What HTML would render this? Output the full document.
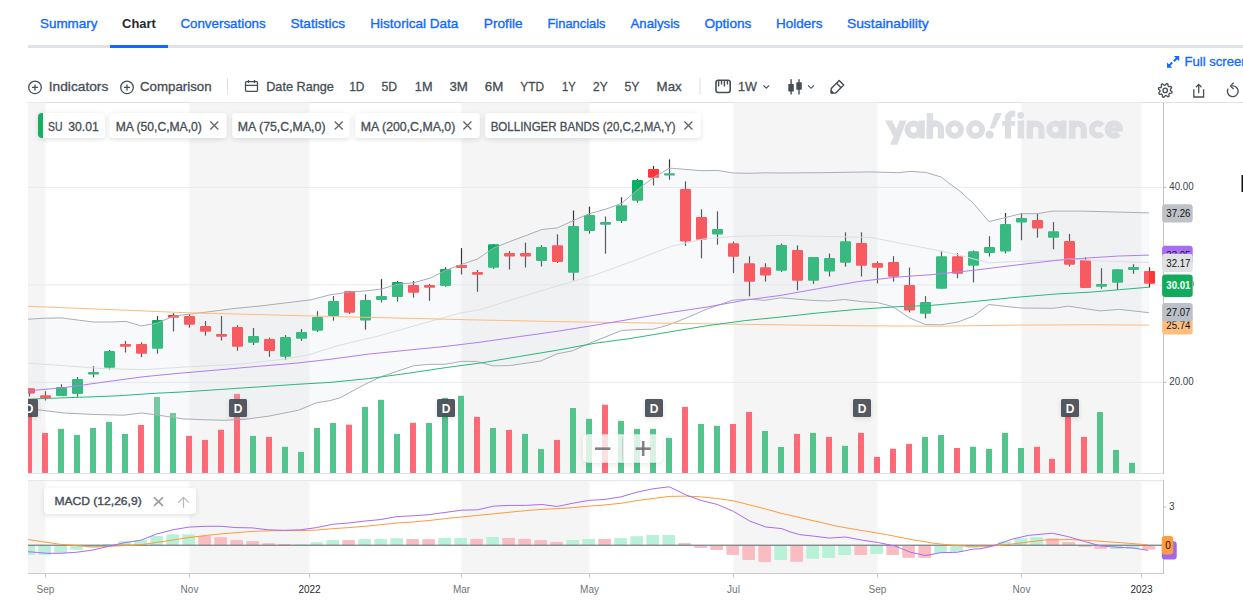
<!DOCTYPE html><html><head><meta charset="utf-8"><title>Chart</title><style>html,body{margin:0;padding:0;background:#fff;width:1243px;height:607px;overflow:hidden;}body{position:relative;font-family:"Liberation Sans",sans-serif;}</style></head><body><svg width="1243" height="607" viewBox="0 0 1243 607" style="position:absolute;left:0;top:0" font-family='"Liberation Sans", sans-serif'><defs><clipPath id="cm"><rect x="28" y="103" width="1135.5" height="370"/></clipPath><clipPath id="cd"><rect x="28" y="481" width="1135.5" height="92"/></clipPath><filter id="sh" x="-20%" y="-50%" width="140%" height="200%"><feDropShadow dx="0" dy="1.5" stdDeviation="2.4" flood-color="#000" flood-opacity="0.12"/></filter></defs><text x="40" y="28.2" font-size="13.5" font-weight="400" fill="#0f69ff" stroke="#0f69ff" stroke-width="0.35" textLength="57.4" lengthAdjust="spacingAndGlyphs">Summary</text><text x="122.1" y="28.2" font-size="13.5" font-weight="700" fill="#232a31" textLength="33.6" lengthAdjust="spacingAndGlyphs">Chart</text><text x="180.4" y="28.2" font-size="13.5" font-weight="400" fill="#0f69ff" stroke="#0f69ff" stroke-width="0.35" textLength="85.3" lengthAdjust="spacingAndGlyphs">Conversations</text><text x="290.4" y="28.2" font-size="13.5" font-weight="400" fill="#0f69ff" stroke="#0f69ff" stroke-width="0.35" textLength="54.7" lengthAdjust="spacingAndGlyphs">Statistics</text><text x="370.3" y="28.2" font-size="13.5" font-weight="400" fill="#0f69ff" stroke="#0f69ff" stroke-width="0.35" textLength="88.0" lengthAdjust="spacingAndGlyphs">Historical Data</text><text x="483.8" y="28.2" font-size="13.5" font-weight="400" fill="#0f69ff" stroke="#0f69ff" stroke-width="0.35" textLength="38.8" lengthAdjust="spacingAndGlyphs">Profile</text><text x="547.5" y="28.2" font-size="13.5" font-weight="400" fill="#0f69ff" stroke="#0f69ff" stroke-width="0.35" textLength="58.0" lengthAdjust="spacingAndGlyphs">Financials</text><text x="630.5" y="28.2" font-size="13.5" font-weight="400" fill="#0f69ff" stroke="#0f69ff" stroke-width="0.35" textLength="49.2" lengthAdjust="spacingAndGlyphs">Analysis</text><text x="704.4" y="28.2" font-size="13.5" font-weight="400" fill="#0f69ff" stroke="#0f69ff" stroke-width="0.35" textLength="47.0" lengthAdjust="spacingAndGlyphs">Options</text><text x="776" y="28.2" font-size="13.5" font-weight="400" fill="#0f69ff" stroke="#0f69ff" stroke-width="0.35" textLength="46.5" lengthAdjust="spacingAndGlyphs">Holders</text><text x="846.9" y="28.2" font-size="13.5" font-weight="400" fill="#0f69ff" stroke="#0f69ff" stroke-width="0.35" textLength="81.8" lengthAdjust="spacingAndGlyphs">Sustainability</text><rect x="28" y="45" width="1215" height="3" fill="#e0e4e9"/><rect x="110" y="45" width="58" height="3" fill="#0f69ff"/><circle cx="35" cy="87.4" r="6.3" fill="none" stroke="#464e56" stroke-width="1.3"/><path d="M32 87.4h6M35 84.4v6" stroke="#464e56" stroke-width="1.3"/><circle cx="127" cy="87.4" r="6.3" fill="none" stroke="#464e56" stroke-width="1.3"/><path d="M124 87.4h6M127 84.4v6" stroke="#464e56" stroke-width="1.3"/><text x="48.8" y="91.2" font-size="13" fill="#464e56" stroke="#464e56" stroke-width="0.3" textLength="59.5" lengthAdjust="spacingAndGlyphs">Indicators</text><text x="140" y="91.2" font-size="13" fill="#464e56" stroke="#464e56" stroke-width="0.3" textLength="71.6" lengthAdjust="spacingAndGlyphs">Comparison</text><text x="266.2" y="91.2" font-size="13" fill="#464e56" stroke="#464e56" stroke-width="0.3" textLength="67.7" lengthAdjust="spacingAndGlyphs">Date Range</text><text x="349.2" y="91.2" font-size="13" fill="#464e56" stroke="#464e56" stroke-width="0.3" textLength="15.3" lengthAdjust="spacingAndGlyphs">1D</text><text x="381.4" y="91.2" font-size="13" fill="#464e56" stroke="#464e56" stroke-width="0.3" textLength="15.6" lengthAdjust="spacingAndGlyphs">5D</text><text x="414.8" y="91.2" font-size="13" fill="#464e56" stroke="#464e56" stroke-width="0.3" textLength="17.7" lengthAdjust="spacingAndGlyphs">1M</text><text x="449.4" y="91.2" font-size="13" fill="#464e56" stroke="#464e56" stroke-width="0.3" textLength="18.5" lengthAdjust="spacingAndGlyphs">3M</text><text x="484.8" y="91.2" font-size="13" fill="#464e56" stroke="#464e56" stroke-width="0.3" textLength="18.5" lengthAdjust="spacingAndGlyphs">6M</text><text x="520.2" y="91.2" font-size="13" fill="#464e56" stroke="#464e56" stroke-width="0.3" textLength="23.8" lengthAdjust="spacingAndGlyphs">YTD</text><text x="562" y="91.2" font-size="13" fill="#464e56" stroke="#464e56" stroke-width="0.3" textLength="13.7" lengthAdjust="spacingAndGlyphs">1Y</text><text x="593" y="91.2" font-size="13" fill="#464e56" stroke="#464e56" stroke-width="0.3" textLength="14.6" lengthAdjust="spacingAndGlyphs">2Y</text><text x="624.5" y="91.2" font-size="13" fill="#464e56" stroke="#464e56" stroke-width="0.3" textLength="14.9" lengthAdjust="spacingAndGlyphs">5Y</text><text x="656.6" y="91.2" font-size="13" fill="#464e56" stroke="#464e56" stroke-width="0.3" textLength="25.1" lengthAdjust="spacingAndGlyphs">Max</text><text x="738" y="91.2" font-size="13" fill="#464e56" stroke="#464e56" stroke-width="0.3" textLength="18.9" lengthAdjust="spacingAndGlyphs">1W</text><rect x="227" y="78" width="1" height="16.5" fill="#dcdfe3"/><rect x="699.5" y="78" width="1" height="16.5" fill="#dcdfe3"/><g fill="none" stroke="#464e56" stroke-width="1.3"><rect x="245.5" y="81.7" width="12" height="9.6" rx="1"/><path d="M245.5 85.4h12M248.5 80v3M254.5 80v3"/></g><g fill="none" stroke="#464e56" stroke-width="1.6"><rect x="716" y="80.3" width="14.2" height="12.2" rx="2.2"/><path d="M718.6 81v5.4M721.5 81v3.4M724.4 81v5.4M727.4 81v3.4" stroke-width="1.4"/></g><path d="M763.5 85.3l2.8 2.8 2.8-2.8" fill="none" stroke="#464e56" stroke-width="1.1"/><path d="M808 85.3l3 3 3-3" fill="none" stroke="#464e56" stroke-width="1.1"/><g fill="#464e56"><rect x="790.4" y="79.2" width="1.4" height="15.3"/><rect x="788.3" y="83.9" width="5.5" height="7.7" rx="0.6"/><rect x="798.3" y="79.2" width="1.4" height="15.3"/><rect x="796.3" y="82.2" width="5.5" height="7.5" rx="0.6"/></g><g fill="none" stroke="#464e56" stroke-width="1.4" stroke-linejoin="round"><path d="M839.2 80.6L843.7 85.1L835.7 93.1L831.6 93.1L831.2 92.7L831.2 88.6Z"/><path d="M836.6 83.2L841.1 87.7"/><path d="M831.2 90.8L833.2 92.8L831.2 92.8Z" fill="#464e56"/></g><g stroke="#0f69ff" stroke-width="2" fill="none"><path d="M1177.6 57.5L1173.9 61.2M1168.6 66.1L1172.2 62.5"/></g><path d="M1173.9 55.9H1179.2V61.2Z" fill="#0f69ff"/><path d="M1167 62.4V67.7H1172.3Z" fill="#0f69ff"/><text x="1184.5" y="65.7" font-size="12.8" fill="#0f69ff" stroke="#0f69ff" stroke-width="0.3" textLength="64" lengthAdjust="spacingAndGlyphs">Full screen</text><path d="M1165.20 85.20 L1166.57 83.53 L1167.88 83.93 L1168.09 86.08 L1168.88 86.72 L1171.02 86.51 L1171.67 87.72 L1170.30 89.39 L1170.40 90.40 L1172.07 91.77 L1171.67 93.08 L1169.52 93.29 L1168.88 94.08 L1169.09 96.22 L1167.88 96.87 L1166.21 95.50 L1165.20 95.60 L1163.83 97.27 L1162.52 96.87 L1162.31 94.72 L1161.52 94.08 L1159.38 94.29 L1158.73 93.08 L1160.10 91.41 L1160.00 90.40 L1158.33 89.03 L1158.73 87.72 L1160.88 87.51 L1161.52 86.72 L1161.31 84.58 L1162.52 83.93 L1164.19 85.30Z" fill="none" stroke="#464e56" stroke-width="1.3" stroke-linejoin="round"/><circle cx="1165.2" cy="90.4" r="2.2" fill="none" stroke="#464e56" stroke-width="1.3"/><g fill="none" stroke="#464e56" stroke-width="1.3"><path d="M1193.8 89.2v7.8h9.8v-7.8"/><path d="M1198.7 93.3v-8.6M1195.9 87.2l2.8-2.8 2.8 2.8"/></g><g fill="none" stroke="#464e56" stroke-width="1.35"><path d="M1232.2 85.9A5.4 5.4 0 1 1 1228.1 88.6"/><path d="M1233.6 82.6L1230.6 85.9L1233.6 89.1"/></g><rect x="1241.5" y="175" width="1.5" height="17" fill="#111"/><rect x="27" y="102" width="1216" height="1" fill="#dfe3eb"/><rect x="28" y="102.6" width="17.5" height="370.4" fill="#f5f5f5"/><rect x="28" y="481" width="17.5" height="92" fill="#f5f5f5"/><rect x="189.5" y="102.6" width="120.0" height="370.4" fill="#f5f5f5"/><rect x="189.5" y="481" width="120.0" height="92" fill="#f5f5f5"/><rect x="461.5" y="102.6" width="128.0" height="370.4" fill="#f5f5f5"/><rect x="461.5" y="481" width="128.0" height="92" fill="#f5f5f5"/><rect x="733.5" y="102.6" width="144.0" height="370.4" fill="#f5f5f5"/><rect x="733.5" y="481" width="144.0" height="92" fill="#f5f5f5"/><rect x="1021.5" y="102.6" width="120.0" height="370.4" fill="#f5f5f5"/><rect x="1021.5" y="481" width="120.0" height="92" fill="#f5f5f5"/><rect x="28" y="186.9" width="1135.5" height="1" fill="#e9eaec"/><rect x="28" y="284.4" width="1135.5" height="1" fill="#e9eaec"/><rect x="28" y="381.9" width="1135.5" height="1" fill="#e9eaec"/><g><polygon points="899.6,120.5 906.6,120.5 897.2,144.7 890.2,144.7" fill="#dcdee2"/><polygon points="885,120.5 892.2,120.5 900.2,137.2 896,141.5" fill="#dcdee2"/><circle cx="913.6" cy="129.6" r="6.1" fill="none" stroke="#dcdee2" stroke-width="6"/><rect x="918.8" y="120.5" width="6" height="18.0" fill="#dcdee2"/><path d="M929.90 138.5 V128.90 A5.50 5.50 0 0 1 940.90 128.90 V138.5" fill="none" stroke="#dcdee2" stroke-width="6.2"/><rect x="926.8" y="120.3" width="6.2" height="18.200000000000003" fill="#dcdee2"/><rect x="926.8" y="113" width="6.2" height="25.5" fill="#dcdee2"/><circle cx="954.7" cy="129.6" r="6.3" fill="none" stroke="#dcdee2" stroke-width="6"/><circle cx="975.6" cy="129.6" r="6.5" fill="none" stroke="#dcdee2" stroke-width="6"/><polygon points="995.2,113 1002,113 994.4,128.6 989.6,128.6" fill="#dcdee2"/><circle cx="989.6" cy="134.6" r="4.2" fill="#dcdee2"/><path d="M1008 138.5 V118.5 A4.8 4.8 0 0 1 1012.8 113.7 H1015.3" fill="none" stroke="#dcdee2" stroke-width="6.2"/><rect x="1002.2" y="121" width="13" height="4.8" fill="#dcdee2"/><circle cx="1020.7" cy="115.4" r="3.3" fill="#dcdee2"/><rect x="1017.6" y="120.5" width="6.4" height="18.0" fill="#dcdee2"/><path d="M1029.90 138.5 V129.35 A5.75 5.75 0 0 1 1041.40 129.35 V138.5" fill="none" stroke="#dcdee2" stroke-width="6.2"/><rect x="1026.8" y="120.5" width="6.2" height="18.0" fill="#dcdee2"/><circle cx="1055.5" cy="129.5" r="6.1" fill="none" stroke="#dcdee2" stroke-width="6"/><rect x="1060.4" y="120.5" width="6.1" height="18.0" fill="#dcdee2"/><path d="M1072.20 138.5 V129.40 A5.80 5.80 0 0 1 1083.80 129.40 V138.5" fill="none" stroke="#dcdee2" stroke-width="6.2"/><rect x="1069.1" y="120.5" width="6.2" height="18.0" fill="#dcdee2"/><path d="M1102.36 125.49 A6 6 0 1 0 1102.36 133.51" fill="none" stroke="#dcdee2" stroke-width="6"/><path d="M1120.10 129.50 A6.2 6.2 0 1 0 1118.65 133.49" fill="none" stroke="#dcdee2" stroke-width="6"/><rect x="1107" y="127.3" width="16" height="4.2" fill="#dcdee2"/></g><g clip-path="url(#cm)"><rect x="26" y="402.0" width="6" height="71.0" fill="#ff6b75"/><rect x="42" y="433.0" width="6" height="40.0" fill="#ff6b75"/><rect x="58" y="428.8" width="6" height="44.2" fill="#52c58c"/><rect x="74" y="434.9" width="6" height="38.1" fill="#52c58c"/><rect x="90" y="428.0" width="6" height="45.0" fill="#52c58c"/><rect x="106" y="421.9" width="6" height="51.1" fill="#52c58c"/><rect x="122" y="434.0" width="6" height="39.0" fill="#52c58c"/><rect x="138" y="425.0" width="6" height="48.0" fill="#ff6b75"/><rect x="154" y="397.0" width="6" height="76.0" fill="#52c58c"/><rect x="170" y="413.0" width="6" height="60.0" fill="#52c58c"/><rect x="186" y="435.9" width="6" height="37.1" fill="#ff6b75"/><rect x="202" y="439.9" width="6" height="33.1" fill="#ff6b75"/><rect x="218" y="429.8" width="6" height="43.2" fill="#ff6b75"/><rect x="234" y="393.9" width="6" height="79.1" fill="#ff6b75"/><rect x="250" y="435.9" width="6" height="37.1" fill="#52c58c"/><rect x="266" y="436.9" width="6" height="36.1" fill="#ff6b75"/><rect x="282" y="446.8" width="6" height="26.2" fill="#52c58c"/><rect x="298" y="452.0" width="6" height="21.0" fill="#52c58c"/><rect x="314" y="428.0" width="6" height="45.0" fill="#52c58c"/><rect x="330" y="423.0" width="6" height="50.0" fill="#52c58c"/><rect x="346" y="424.7" width="6" height="48.3" fill="#ff6b75"/><rect x="362" y="406.9" width="6" height="66.1" fill="#52c58c"/><rect x="378" y="399.8" width="6" height="73.2" fill="#52c58c"/><rect x="394" y="433.9" width="6" height="39.1" fill="#52c58c"/><rect x="410" y="422.8" width="6" height="50.2" fill="#ff6b75"/><rect x="426" y="423.0" width="6" height="50.0" fill="#52c58c"/><rect x="442" y="397.9" width="6" height="75.1" fill="#52c58c"/><rect x="458" y="395.8" width="6" height="77.2" fill="#52c58c"/><rect x="474" y="416.9" width="6" height="56.1" fill="#ff6b75"/><rect x="490" y="428.0" width="6" height="45.0" fill="#52c58c"/><rect x="506" y="429.9" width="6" height="43.1" fill="#ff6b75"/><rect x="522" y="433.9" width="6" height="39.1" fill="#52c58c"/><rect x="538" y="449.1" width="6" height="23.9" fill="#52c58c"/><rect x="554" y="439.9" width="6" height="33.1" fill="#ff6b75"/><rect x="570" y="408.0" width="6" height="65.0" fill="#52c58c"/><rect x="586" y="418.8" width="6" height="54.2" fill="#52c58c"/><rect x="602" y="404.7" width="6" height="68.3" fill="#ff6b75"/><rect x="618" y="420.9" width="6" height="52.1" fill="#52c58c"/><rect x="634" y="428.9" width="6" height="44.1" fill="#52c58c"/><rect x="650" y="428.9" width="6" height="44.1" fill="#52c58c"/><rect x="666" y="437.9" width="6" height="35.1" fill="#52c58c"/><rect x="682" y="406.9" width="6" height="66.1" fill="#ff6b75"/><rect x="698" y="424.0" width="6" height="49.0" fill="#52c58c"/><rect x="714" y="425.8" width="6" height="47.2" fill="#52c58c"/><rect x="730" y="424.0" width="6" height="49.0" fill="#ff6b75"/><rect x="746" y="412.0" width="6" height="61.0" fill="#ff6b75"/><rect x="762" y="431.0" width="6" height="42.0" fill="#52c58c"/><rect x="778" y="447.0" width="6" height="26.0" fill="#52c58c"/><rect x="794" y="433.9" width="6" height="39.1" fill="#ff6b75"/><rect x="810" y="432.9" width="6" height="40.1" fill="#52c58c"/><rect x="826" y="436.9" width="6" height="36.1" fill="#ff6b75"/><rect x="842" y="445.8" width="6" height="27.2" fill="#52c58c"/><rect x="858" y="432.9" width="6" height="40.1" fill="#ff6b75"/><rect x="874" y="456.9" width="6" height="16.1" fill="#ff6b75"/><rect x="890" y="448.8" width="6" height="24.2" fill="#ff6b75"/><rect x="906" y="443.9" width="6" height="29.1" fill="#ff6b75"/><rect x="922" y="436.9" width="6" height="36.1" fill="#52c58c"/><rect x="938" y="435.0" width="6" height="38.0" fill="#52c58c"/><rect x="954" y="448.0" width="6" height="25.0" fill="#ff6b75"/><rect x="970" y="446.8" width="6" height="26.2" fill="#52c58c"/><rect x="986" y="448.9" width="6" height="24.1" fill="#52c58c"/><rect x="1002" y="432.9" width="6" height="40.1" fill="#52c58c"/><rect x="1018" y="448.0" width="6" height="25.0" fill="#52c58c"/><rect x="1034" y="446.8" width="6" height="26.2" fill="#ff6b75"/><rect x="1049" y="458.8" width="6" height="14.2" fill="#ff6b75"/><rect x="1065" y="413.9" width="6" height="59.1" fill="#ff6b75"/><rect x="1081" y="436.9" width="6" height="36.1" fill="#ff6b75"/><rect x="1097" y="412.0" width="6" height="61.0" fill="#52c58c"/><rect x="1113" y="450.0" width="6" height="23.0" fill="#52c58c"/><rect x="1129" y="462.8" width="6" height="10.2" fill="#52c58c"/></g><g clip-path="url(#cm)"><rect x="28.9" y="388.0" width="1.2" height="8.5" fill="#33383d"/><rect x="24" y="388.2" width="11" height="5.4" rx="1" fill="#ff3538"/><rect x="44.9" y="391.2" width="1.2" height="9.3" fill="#33383d"/><rect x="40" y="395.2" width="11" height="2.7" rx="1" fill="#ff3538"/><rect x="60.9" y="384.2" width="1.2" height="11.8" fill="#33383d"/><rect x="56" y="387.0" width="11" height="9.0" rx="1" fill="#08ae62"/><rect x="76.9" y="377.0" width="1.2" height="19.7" fill="#33383d"/><rect x="72" y="379.0" width="11" height="15.0" rx="1" fill="#08ae62"/><rect x="92.9" y="366.1" width="1.2" height="11.3" fill="#33383d"/><rect x="88" y="372.0" width="11" height="2.6" rx="1" fill="#08ae62"/><rect x="108.9" y="350.0" width="1.2" height="19.5" fill="#33383d"/><rect x="104" y="351.1" width="11" height="16.6" rx="1" fill="#08ae62"/><rect x="124.9" y="341.0" width="1.2" height="11.5" fill="#33383d"/><rect x="120" y="344.0" width="11" height="2.8" rx="1" fill="#ff3538"/><rect x="140.9" y="342.4" width="1.2" height="14.8" fill="#33383d"/><rect x="136" y="344.0" width="11" height="9.7" rx="1" fill="#ff3538"/><rect x="156.9" y="316.1" width="1.2" height="37.6" fill="#33383d"/><rect x="152" y="320.0" width="11" height="28.7" rx="1" fill="#08ae62"/><rect x="172.9" y="313.3" width="1.2" height="18.2" fill="#33383d"/><rect x="168" y="315.1" width="11" height="2.6" rx="1" fill="#ff3538"/><rect x="188.9" y="314.2" width="1.2" height="13.5" fill="#33383d"/><rect x="184" y="316.1" width="11" height="8.6" rx="1" fill="#ff3538"/><rect x="204.9" y="321.1" width="1.2" height="14.5" fill="#33383d"/><rect x="200" y="326.0" width="11" height="5.8" rx="1" fill="#ff3538"/><rect x="220.9" y="316.1" width="1.2" height="24.4" fill="#33383d"/><rect x="216" y="333.9" width="11" height="2.8" rx="1" fill="#ff3538"/><rect x="236.9" y="325.2" width="1.2" height="25.5" fill="#33383d"/><rect x="232" y="327.0" width="11" height="19.8" rx="1" fill="#ff3538"/><rect x="252.9" y="328.0" width="1.2" height="17.0" fill="#33383d"/><rect x="248" y="335.9" width="11" height="6.8" rx="1" fill="#08ae62"/><rect x="268.9" y="337.6" width="1.2" height="19.2" fill="#33383d"/><rect x="264" y="338.9" width="11" height="12.0" rx="1" fill="#ff3538"/><rect x="284.9" y="335.1" width="1.2" height="24.7" fill="#33383d"/><rect x="280" y="337.0" width="11" height="19.8" rx="1" fill="#08ae62"/><rect x="300.9" y="329.0" width="1.2" height="11.9" fill="#33383d"/><rect x="296" y="332.1" width="11" height="6.6" rx="1" fill="#08ae62"/><rect x="316.9" y="311.2" width="1.2" height="20.9" fill="#33383d"/><rect x="312" y="317.1" width="11" height="13.7" rx="1" fill="#08ae62"/><rect x="332.9" y="296.0" width="1.2" height="24.7" fill="#33383d"/><rect x="328" y="301.0" width="11" height="15.1" rx="1" fill="#08ae62"/><rect x="348.9" y="291.0" width="1.2" height="23.0" fill="#33383d"/><rect x="344" y="291.3" width="11" height="21.4" rx="1" fill="#ff3538"/><rect x="364.9" y="294.3" width="1.2" height="35.4" fill="#33383d"/><rect x="360" y="300.0" width="11" height="20.6" rx="1" fill="#08ae62"/><rect x="380.9" y="279.1" width="1.2" height="23.4" fill="#33383d"/><rect x="376" y="295.9" width="11" height="4.0" rx="1" fill="#08ae62"/><rect x="396.9" y="281.1" width="1.2" height="20.6" fill="#33383d"/><rect x="392" y="282.1" width="11" height="14.8" rx="1" fill="#08ae62"/><rect x="412.9" y="281.1" width="1.2" height="16.5" fill="#33383d"/><rect x="408" y="285.0" width="11" height="7.8" rx="1" fill="#ff3538"/><rect x="428.9" y="284.0" width="1.2" height="16.9" fill="#33383d"/><rect x="424" y="285.0" width="11" height="2.8" rx="1" fill="#ff3538"/><rect x="444.9" y="267.2" width="1.2" height="19.6" fill="#33383d"/><rect x="440" y="268.9" width="11" height="17.1" rx="1" fill="#08ae62"/><rect x="460.9" y="248.1" width="1.2" height="26.4" fill="#33383d"/><rect x="456" y="264.9" width="11" height="3.0" rx="1" fill="#ff3538"/><rect x="476.9" y="270.0" width="1.2" height="21.8" fill="#33383d"/><rect x="472" y="272.0" width="11" height="2.8" rx="1" fill="#ff3538"/><rect x="492.9" y="244.0" width="1.2" height="24.9" fill="#33383d"/><rect x="488" y="244.2" width="11" height="23.5" rx="1" fill="#08ae62"/><rect x="508.9" y="251.1" width="1.2" height="18.4" fill="#33383d"/><rect x="504" y="253.1" width="11" height="3.5" rx="1" fill="#ff3538"/><rect x="524.9" y="242.6" width="1.2" height="24.9" fill="#33383d"/><rect x="520" y="253.1" width="11" height="3.5" rx="1" fill="#ff3538"/><rect x="540.9" y="245.2" width="1.2" height="21.3" fill="#33383d"/><rect x="536" y="247.1" width="11" height="13.9" rx="1" fill="#08ae62"/><rect x="556.9" y="234.3" width="1.2" height="28.7" fill="#33383d"/><rect x="552" y="245.2" width="11" height="16.8" rx="1" fill="#ff3538"/><rect x="572.9" y="210.5" width="1.2" height="69.9" fill="#33383d"/><rect x="568" y="226.0" width="11" height="46.8" rx="1" fill="#08ae62"/><rect x="588.9" y="206.6" width="1.2" height="27.1" fill="#33383d"/><rect x="584" y="215.1" width="11" height="15.8" rx="1" fill="#08ae62"/><rect x="604.9" y="216.5" width="1.2" height="37.2" fill="#33383d"/><rect x="600" y="222.0" width="11" height="2.8" rx="1" fill="#08ae62"/><rect x="620.9" y="197.3" width="1.2" height="25.7" fill="#33383d"/><rect x="616" y="205.2" width="11" height="15.8" rx="1" fill="#08ae62"/><rect x="636.9" y="178.9" width="1.2" height="23.7" fill="#33383d"/><rect x="632" y="180.0" width="11" height="20.7" rx="1" fill="#08ae62"/><rect x="652.9" y="166.0" width="1.2" height="19.4" fill="#33383d"/><rect x="648" y="169.0" width="11" height="8.7" rx="1" fill="#ff3538"/><rect x="668.9" y="159.4" width="1.2" height="20.3" fill="#33383d"/><rect x="664" y="173.2" width="11" height="2.3" rx="1" fill="#08ae62"/><rect x="684.9" y="181.4" width="1.2" height="64.5" fill="#33383d"/><rect x="680" y="189.1" width="11" height="52.4" rx="1" fill="#ff3538"/><rect x="700.9" y="209.3" width="1.2" height="49.0" fill="#33383d"/><rect x="696" y="217.0" width="11" height="22.8" rx="1" fill="#ff3538"/><rect x="716.9" y="211.3" width="1.2" height="33.4" fill="#33383d"/><rect x="712" y="229.1" width="11" height="5.5" rx="1" fill="#08ae62"/><rect x="732.9" y="241.5" width="1.2" height="31.6" fill="#33383d"/><rect x="728" y="243.2" width="11" height="13.6" rx="1" fill="#ff3538"/><rect x="748.9" y="256.3" width="1.2" height="40.1" fill="#33383d"/><rect x="744" y="263.3" width="11" height="18.5" rx="1" fill="#ff3538"/><rect x="764.9" y="263.3" width="1.2" height="18.3" fill="#33383d"/><rect x="760" y="267.2" width="11" height="8.4" rx="1" fill="#ff3538"/><rect x="780.9" y="243.5" width="1.2" height="28.4" fill="#33383d"/><rect x="776" y="245.0" width="11" height="25.7" rx="1" fill="#08ae62"/><rect x="796.9" y="245.4" width="1.2" height="44.9" fill="#33383d"/><rect x="792" y="250.1" width="11" height="30.6" rx="1" fill="#ff3538"/><rect x="812.9" y="257.0" width="1.2" height="26.8" fill="#33383d"/><rect x="808" y="257.1" width="11" height="23.6" rx="1" fill="#08ae62"/><rect x="828.9" y="253.5" width="1.2" height="23.0" fill="#33383d"/><rect x="824" y="258.0" width="11" height="13.6" rx="1" fill="#08ae62"/><rect x="844.9" y="232.3" width="1.2" height="34.3" fill="#33383d"/><rect x="840" y="241.2" width="11" height="21.6" rx="1" fill="#08ae62"/><rect x="860.9" y="232.3" width="1.2" height="44.2" fill="#33383d"/><rect x="856" y="243.0" width="11" height="22.7" rx="1" fill="#ff3538"/><rect x="876.9" y="261.3" width="1.2" height="22.1" fill="#33383d"/><rect x="872" y="262.9" width="11" height="4.8" rx="1" fill="#ff3538"/><rect x="892.9" y="256.2" width="1.2" height="25.4" fill="#33383d"/><rect x="888" y="262.0" width="11" height="14.7" rx="1" fill="#ff3538"/><rect x="908.9" y="267.5" width="1.2" height="44.9" fill="#33383d"/><rect x="904" y="284.9" width="11" height="25.7" rx="1" fill="#ff3538"/><rect x="924.9" y="296.1" width="1.2" height="22.3" fill="#33383d"/><rect x="920" y="302.1" width="11" height="11.6" rx="1" fill="#08ae62"/><rect x="940.9" y="250.7" width="1.2" height="38.1" fill="#33383d"/><rect x="936" y="256.2" width="11" height="32.6" rx="1" fill="#08ae62"/><rect x="956.9" y="253.1" width="1.2" height="25.2" fill="#33383d"/><rect x="952" y="256.2" width="11" height="17.5" rx="1" fill="#ff3538"/><rect x="972.9" y="250.4" width="1.2" height="32.0" fill="#33383d"/><rect x="968" y="251.3" width="11" height="14.5" rx="1" fill="#08ae62"/><rect x="988.9" y="236.2" width="1.2" height="20.3" fill="#33383d"/><rect x="984" y="247.1" width="11" height="5.8" rx="1" fill="#08ae62"/><rect x="1004.9" y="213.0" width="1.2" height="40.5" fill="#33383d"/><rect x="1000" y="223.9" width="11" height="27.7" rx="1" fill="#08ae62"/><rect x="1020.9" y="213.0" width="1.2" height="27.2" fill="#33383d"/><rect x="1016" y="218.1" width="11" height="4.5" rx="1" fill="#08ae62"/><rect x="1036.9" y="213.0" width="1.2" height="24.7" fill="#33383d"/><rect x="1032" y="219.9" width="11" height="8.7" rx="1" fill="#ff3538"/><rect x="1052.9" y="222.1" width="1.2" height="27.2" fill="#33383d"/><rect x="1048" y="231.2" width="11" height="6.5" rx="1" fill="#08ae62"/><rect x="1068.9" y="233.9" width="1.2" height="32.6" fill="#33383d"/><rect x="1064" y="241.1" width="11" height="23.6" rx="1" fill="#ff3538"/><rect x="1084.9" y="257.3" width="1.2" height="30.7" fill="#33383d"/><rect x="1080" y="259.8" width="11" height="28.2" rx="1" fill="#ff3538"/><rect x="1100.9" y="268.2" width="1.2" height="20.5" fill="#33383d"/><rect x="1096" y="284.0" width="11" height="2.8" rx="1" fill="#08ae62"/><rect x="1116.9" y="269.2" width="1.2" height="20.7" fill="#33383d"/><rect x="1112" y="269.2" width="11" height="13.6" rx="1" fill="#08ae62"/><rect x="1132.9" y="264.2" width="1.2" height="9.6" fill="#33383d"/><rect x="1128" y="267.0" width="11" height="2.9" rx="1" fill="#08ae62"/><rect x="1148.9" y="267.2" width="1.2" height="20.3" fill="#33383d"/><rect x="1144" y="270.9" width="11" height="12.9" rx="1" fill="#ff3538"/></g><g clip-path="url(#cm)"><polygon points="28.0,319.2 44.7,318.2 61.5,317.9 78.2,320.1 93.6,322.0 110.4,322.0 125.8,321.4 141.3,325.9 156.7,323.3 173.5,316.2 188.0,314.3 208.0,311.9 234.0,308.5 260.0,306.0 285.5,302.9 311.0,299.8 330.0,294.8 349.8,292.0 365.6,290.9 381.4,289.0 397.2,284.3 413.7,282.7 430.2,278.1 446.0,270.2 461.8,264.3 477.6,259.0 493.2,248.2 509.7,241.6 525.3,235.8 541.8,229.5 557.4,227.9 573.1,220.6 589.6,213.6 606.0,209.1 621.7,203.2 640.0,187.8 653.5,177.5 669.6,168.1 685.7,169.4 701.8,170.7 717.2,170.4 733.3,173.0 749.4,173.3 765.5,172.8 781.6,173.0 820.2,172.7 871.7,171.9 897.5,172.7 910.3,171.4 925.8,172.4 941.2,177.0 950.0,184.0 960.0,191.2 973.7,203.7 989.0,221.6 1021.0,213.7 1037.0,213.7 1052.8,211.1 1081.8,211.1 1149.0,212.9 1149.0,312.7 1119.3,309.4 1100.0,310.9 1068.6,306.2 1053.2,308.3 1021.0,308.0 1007.0,306.6 988.8,304.5 973.4,316.1 958.0,322.0 941.2,324.8 925.4,324.5 908.7,317.5 893.3,306.8 877.8,302.6 862.4,301.7 844.4,299.5 828.9,301.0 812.2,300.4 780.6,297.8 765.2,300.3 748.4,299.3 733.0,300.0 707.2,309.0 687.9,317.3 668.6,325.0 653.2,329.2 640.0,329.5 621.6,330.5 586.8,344.4 572.7,350.8 557.2,353.8 540.5,361.1 509.6,365.6 492.9,365.9 476.7,361.4 461.3,361.4 445.8,364.2 429.1,364.4 413.7,365.7 381.5,376.6 364.8,384.4 340.0,397.8 330.0,400.6 316.4,402.8 298.6,410.2 269.0,416.1 246.7,419.1 224.5,420.3 205.2,419.8 183.1,418.9 168.3,416.7 153.4,414.5 141.6,413.0 123.8,415.2 94.1,414.5 64.5,413.0 39.3,410.0 28.0,409.5" fill="rgba(223,228,237,0.22)"/><polyline points="28.0,363.2 66.6,365.8 98.8,368.4 143.8,369.7 180.0,367.3 244.4,363.8 283.0,359.3 308.7,354.8 340.0,345.1 381.5,335.2 433.0,320.6 461.0,312.9 480.0,309.7 511.0,300.0 554.0,287.0 597.0,274.2 640.0,258.5 660.0,250.7 670.9,246.5 704.4,238.8 735.3,236.3 781.6,235.5 820.2,236.3 871.7,237.5 897.5,242.7 930.0,248.9 955.2,254.1 988.8,262.9 1014.0,261.5 1056.0,260.1 1070.0,259.0 1097.0,260.8 1149.0,262.5" fill="none" stroke="#dcdee2" stroke-width="1"/><polyline points="28.0,319.2 44.7,318.2 61.5,317.9 78.2,320.1 93.6,322.0 110.4,322.0 125.8,321.4 141.3,325.9 156.7,323.3 173.5,316.2 188.0,314.3 208.0,311.9 234.0,308.5 260.0,306.0 285.5,302.9 311.0,299.8 330.0,294.8 349.8,292.0 365.6,290.9 381.4,289.0 397.2,284.3 413.7,282.7 430.2,278.1 446.0,270.2 461.8,264.3 477.6,259.0 493.2,248.2 509.7,241.6 525.3,235.8 541.8,229.5 557.4,227.9 573.1,220.6 589.6,213.6 606.0,209.1 621.7,203.2 640.0,187.8 653.5,177.5 669.6,168.1 685.7,169.4 701.8,170.7 717.2,170.4 733.3,173.0 749.4,173.3 765.5,172.8 781.6,173.0 820.2,172.7 871.7,171.9 897.5,172.7 910.3,171.4 925.8,172.4 941.2,177.0 950.0,184.0 960.0,191.2 973.7,203.7 989.0,221.6 1021.0,213.7 1037.0,213.7 1052.8,211.1 1081.8,211.1 1149.0,212.9" fill="none" stroke="#a9aeb6" stroke-width="1"/><polyline points="28.0,409.5 39.3,410.0 64.5,413.0 94.1,414.5 123.8,415.2 141.6,413.0 153.4,414.5 168.3,416.7 183.1,418.9 205.2,419.8 224.5,420.3 246.7,419.1 269.0,416.1 298.6,410.2 316.4,402.8 330.0,400.6 340.0,397.8 364.8,384.4 381.5,376.6 413.7,365.7 429.1,364.4 445.8,364.2 461.3,361.4 476.7,361.4 492.9,365.9 509.6,365.6 540.5,361.1 557.2,353.8 572.7,350.8 586.8,344.4 621.6,330.5 640.0,329.5 653.2,329.2 668.6,325.0 687.9,317.3 707.2,309.0 733.0,300.0 748.4,299.3 765.2,300.3 780.6,297.8 812.2,300.4 828.9,301.0 844.4,299.5 862.4,301.7 877.8,302.6 893.3,306.8 908.7,317.5 925.4,324.5 941.2,324.8 958.0,322.0 973.4,316.1 988.8,304.5 1007.0,306.6 1021.0,308.0 1053.2,308.3 1068.6,306.2 1100.0,310.9 1119.3,309.4 1149.0,312.7" fill="none" stroke="#a9aeb6" stroke-width="1"/><polyline points="28.0,306.3 105.2,309.4 188.0,312.8 340.0,316.7 480.0,320.0 557.2,321.6 640.0,322.9 707.2,323.8 790.0,325.0 857.2,325.8 940.0,326.2 1014.0,325.1 1090.0,324.8 1149.0,325.1" fill="none" stroke="#fdbb80" stroke-width="1"/><polyline points="28.0,399.3 40.9,398.6 79.5,397.3 118.1,395.8 156.7,393.2 180.0,392.1 218.6,389.6 257.2,387.0 295.8,384.4 330.0,382.4 368.6,378.6 407.2,373.4 445.8,367.6 480.0,363.1 518.6,356.6 557.2,350.2 595.8,343.1 630.0,338.6 668.6,332.1 707.2,325.7 745.8,320.5 780.0,317.1 818.6,312.9 857.2,309.4 895.8,306.8 930.0,305.5 972.0,301.7 1014.0,297.5 1056.0,294.0 1089.7,292.2 1119.3,289.7 1149.0,287.2" fill="none" stroke="#2db77a" stroke-width="1"/><polyline points="28.0,390.9 66.6,387.3 105.2,381.9 143.8,376.7 180.0,373.2 218.6,369.9 257.2,366.4 295.8,363.2 330.0,359.3 368.6,354.1 407.2,350.2 445.8,346.4 480.0,342.2 518.6,336.7 557.2,331.3 595.8,325.1 630.0,319.3 668.6,312.8 707.2,307.0 745.8,300.0 780.0,295.5 818.6,288.6 857.2,281.7 895.8,277.2 930.0,274.8 972.0,270.5 1014.0,265.3 1056.0,260.4 1089.7,257.8 1119.3,256.0 1149.0,255.1" fill="none" stroke="#b27cf6" stroke-width="1"/></g><g clip-path="url(#cm)"><rect x="20" y="399" width="18" height="18" rx="1.5" fill="#4b5159" fill-opacity="0.95" filter="url(#sh)"/><text x="29" y="412.6" font-size="12" font-weight="700" fill="#fff" text-anchor="middle">D</text></g><g clip-path="url(#cm)"><rect x="229" y="399" width="18" height="18" rx="1.5" fill="#4b5159" fill-opacity="0.95" filter="url(#sh)"/><text x="238" y="412.6" font-size="12" font-weight="700" fill="#fff" text-anchor="middle">D</text></g><g clip-path="url(#cm)"><rect x="437" y="399" width="18" height="18" rx="1.5" fill="#4b5159" fill-opacity="0.95" filter="url(#sh)"/><text x="446" y="412.6" font-size="12" font-weight="700" fill="#fff" text-anchor="middle">D</text></g><g clip-path="url(#cm)"><rect x="645" y="399" width="18" height="18" rx="1.5" fill="#4b5159" fill-opacity="0.95" filter="url(#sh)"/><text x="654" y="412.6" font-size="12" font-weight="700" fill="#fff" text-anchor="middle">D</text></g><g clip-path="url(#cm)"><rect x="853" y="399" width="18" height="18" rx="1.5" fill="#4b5159" fill-opacity="0.95" filter="url(#sh)"/><text x="862" y="412.6" font-size="12" font-weight="700" fill="#fff" text-anchor="middle">D</text></g><g clip-path="url(#cm)"><rect x="1061" y="399" width="18" height="18" rx="1.5" fill="#4b5159" fill-opacity="0.95" filter="url(#sh)"/><text x="1070" y="412.6" font-size="12" font-weight="700" fill="#fff" text-anchor="middle">D</text></g><rect x="583" y="434.3" width="79.3" height="28.5" rx="5" fill="#fff" fill-opacity="0.78" filter="url(#sh)"/><rect x="595" y="447.4" width="15.4" height="2.6" fill="#6f6f6f" fill-opacity="0.85"/><rect x="635.7" y="447.4" width="15" height="2.6" fill="#6f6f6f" fill-opacity="0.85"/><rect x="641.9" y="441" width="2.6" height="15" fill="#6f6f6f" fill-opacity="0.85"/><rect x="622" y="438" width="1" height="22.4" fill="#ccc"/><rect x="28" y="473" width="1135.5" height="1" fill="#dfe3eb"/><rect x="28" y="480.2" width="1135.5" height="1" fill="#dfe3eb"/><rect x="28" y="573" width="1136" height="1" fill="#c9ccd1"/><rect x="1163" y="102.6" width="1" height="371" fill="#c2c6cc"/><rect x="1163" y="480" width="1" height="94" fill="#c2c6cc"/><g clip-path="url(#cd)"><rect x="22.4" y="545.2" width="12.5" height="9.7" fill="#b7f1d8"/><rect x="38.4" y="545.2" width="12.5" height="9.7" fill="#b7f1d8"/><rect x="54.4" y="545.2" width="12.5" height="7.6" fill="#b7f1d8"/><rect x="70.4" y="545.2" width="12.5" height="4.7" fill="#b7f1d8"/><rect x="86.4" y="545.2" width="12.5" height="2.5" fill="#b7f1d8"/><rect x="102.4" y="544.0" width="12.5" height="1.2" fill="#b7f1d8"/><rect x="118.4" y="541.2" width="12.5" height="4.0" fill="#b7f1d8"/><rect x="134.4" y="540.0" width="12.5" height="5.2" fill="#b7f1d8"/><rect x="150.4" y="535.9" width="12.5" height="9.3" fill="#b7f1d8"/><rect x="166.4" y="534.3" width="12.5" height="10.9" fill="#b7f1d8"/><rect x="182.4" y="534.3" width="12.5" height="10.9" fill="#b7f1d8"/><rect x="198.4" y="535.9" width="12.5" height="9.3" fill="#f9bcc1"/><rect x="214.4" y="537.2" width="12.5" height="8.0" fill="#f9bcc1"/><rect x="230.4" y="540.1" width="12.5" height="5.1" fill="#f9bcc1"/><rect x="246.4" y="541.1" width="12.5" height="4.1" fill="#f9bcc1"/><rect x="262.4" y="543.2" width="12.5" height="2.0" fill="#f9bcc1"/><rect x="278.4" y="544.1" width="12.5" height="1.1" fill="#f9bcc1"/><rect x="294.4" y="544.3" width="12.5" height="0.9" fill="#b7f1d8"/><rect x="310.4" y="542.2" width="12.5" height="3.0" fill="#b7f1d8"/><rect x="326.4" y="540.1" width="12.5" height="5.1" fill="#b7f1d8"/><rect x="342.4" y="540.1" width="12.5" height="5.1" fill="#f9bcc1"/><rect x="358.4" y="539.1" width="12.5" height="6.1" fill="#b7f1d8"/><rect x="374.4" y="539.1" width="12.5" height="6.1" fill="#b7f1d8"/><rect x="390.4" y="538.2" width="12.5" height="7.0" fill="#b7f1d8"/><rect x="406.4" y="539.1" width="12.5" height="6.1" fill="#f9bcc1"/><rect x="422.4" y="539.2" width="12.5" height="6.0" fill="#f9bcc1"/><rect x="438.4" y="537.9" width="12.5" height="7.3" fill="#b7f1d8"/><rect x="454.4" y="537.9" width="12.5" height="7.3" fill="#b7f1d8"/><rect x="470.4" y="538.9" width="12.5" height="6.3" fill="#f9bcc1"/><rect x="486.4" y="537.0" width="12.5" height="8.2" fill="#b7f1d8"/><rect x="502.4" y="537.9" width="12.5" height="7.3" fill="#f9bcc1"/><rect x="518.4" y="538.9" width="12.5" height="6.3" fill="#f9bcc1"/><rect x="534.4" y="540.0" width="12.5" height="5.2" fill="#f9bcc1"/><rect x="550.4" y="541.9" width="12.5" height="3.3" fill="#f9bcc1"/><rect x="566.4" y="540.0" width="12.5" height="5.2" fill="#b7f1d8"/><rect x="582.4" y="538.9" width="12.5" height="6.3" fill="#b7f1d8"/><rect x="598.4" y="538.9" width="12.5" height="6.3" fill="#f9bcc1"/><rect x="614.4" y="538.1" width="12.5" height="7.1" fill="#b7f1d8"/><rect x="630.4" y="536.2" width="12.5" height="9.0" fill="#b7f1d8"/><rect x="646.4" y="535.0" width="12.5" height="10.2" fill="#b7f1d8"/><rect x="662.4" y="535.0" width="12.5" height="10.2" fill="#b7f1d8"/><rect x="678.4" y="543.1" width="12.5" height="2.1" fill="#f9bcc1"/><rect x="694.4" y="545.2" width="12.5" height="2.7" fill="#f9bcc1"/><rect x="710.4" y="545.2" width="12.5" height="4.8" fill="#f9bcc1"/><rect x="726.4" y="545.2" width="12.5" height="9.6" fill="#f9bcc1"/><rect x="742.4" y="545.2" width="12.5" height="14.8" fill="#f9bcc1"/><rect x="758.4" y="545.2" width="12.5" height="16.9" fill="#f9bcc1"/><rect x="774.4" y="545.2" width="12.5" height="14.8" fill="#b7f1d8"/><rect x="790.4" y="545.2" width="12.5" height="16.6" fill="#f9bcc1"/><rect x="806.4" y="545.2" width="12.5" height="13.5" fill="#b7f1d8"/><rect x="822.4" y="545.2" width="12.5" height="12.7" fill="#b7f1d8"/><rect x="838.4" y="545.2" width="12.5" height="9.8" fill="#b7f1d8"/><rect x="854.4" y="545.2" width="12.5" height="9.8" fill="#f9bcc1"/><rect x="870.4" y="545.2" width="12.5" height="8.7" fill="#b7f1d8"/><rect x="886.4" y="545.2" width="12.5" height="9.8" fill="#f9bcc1"/><rect x="902.4" y="545.2" width="12.5" height="12.7" fill="#f9bcc1"/><rect x="918.4" y="545.2" width="12.5" height="12.7" fill="#f9bcc1"/><rect x="934.4" y="545.2" width="12.5" height="7.9" fill="#b7f1d8"/><rect x="950.4" y="545.2" width="12.5" height="6.6" fill="#b7f1d8"/><rect x="966.4" y="545.2" width="12.5" height="2.8" fill="#b7f1d8"/><rect x="982.4" y="545.2" width="12.5" height="1.0" fill="#b7f1d8"/><rect x="998.4" y="541.5" width="12.5" height="3.7" fill="#b7f1d8"/><rect x="1014.4" y="538.3" width="12.5" height="6.9" fill="#b7f1d8"/><rect x="1030.4" y="537.2" width="12.5" height="8.0" fill="#b7f1d8"/><rect x="1046.4" y="538.3" width="12.5" height="6.9" fill="#f9bcc1"/><rect x="1062.4" y="542.0" width="12.5" height="3.2" fill="#f9bcc1"/><rect x="1078.4" y="545.2" width="12.5" height="1.7" fill="#f9bcc1"/><rect x="1094.4" y="545.2" width="12.5" height="3.6" fill="#f9bcc1"/><rect x="1110.4" y="545.2" width="12.5" height="3.9" fill="#b7f1d8"/><rect x="1126.4" y="545.2" width="12.5" height="3.6" fill="#b7f1d8"/><rect x="1142.4" y="545.2" width="12.5" height="4.4" fill="#f9bcc1"/><rect x="28" y="544.6" width="1135.5" height="1.3" fill="#7d8288"/><polyline points="28.0,539.5 44.1,542.0 60.2,544.3 76.3,545.6 92.4,546.9 108.5,546.4 124.5,545.6 140.6,544.8 156.7,542.4 172.8,540.0 188.9,537.5 205.0,535.6 220.0,534.0 236.1,532.7 252.2,531.4 268.3,530.8 284.4,530.6 300.5,530.6 316.5,530.0 332.6,528.7 348.7,527.6 364.8,526.3 380.9,524.7 397.0,523.0 410.0,522.2 429.3,520.5 445.4,518.6 461.5,517.0 477.6,515.4 493.7,513.8 509.8,512.2 525.8,510.6 541.9,509.4 557.2,508.6 572.5,507.7 588.6,506.1 600.0,505.4 620.9,503.3 637.0,500.6 653.1,498.5 669.2,496.4 686.9,496.1 701.4,496.9 717.5,498.5 733.5,500.9 749.6,504.9 765.7,509.0 781.8,513.5 790.0,515.3 800.0,517.6 814.1,520.9 838.3,526.5 862.4,530.6 886.5,534.6 910.7,539.4 934.8,543.4 950.9,545.1 967.0,546.2 990.0,546.3 1012.2,544.0 1044.4,540.0 1068.5,539.5 1092.6,540.7 1116.8,542.4 1148.1,544.8" fill="none" stroke="#ff9a3c" stroke-width="1"/><polyline points="28.0,551.7 37.7,552.5 47.3,553.3 60.2,553.3 76.3,552.3 92.4,550.1 108.5,546.4 124.5,542.7 140.6,540.3 156.7,534.0 172.8,529.8 188.9,527.1 205.0,526.3 221.1,526.3 236.1,527.6 252.2,527.9 268.3,529.8 284.4,530.3 300.5,529.8 316.5,527.6 332.6,524.3 348.7,523.0 364.8,521.1 380.9,519.5 397.0,516.6 413.1,515.8 429.3,514.6 461.5,510.2 477.6,509.8 493.7,506.1 509.8,505.4 525.8,505.4 541.9,504.5 557.2,506.5 572.5,503.3 588.6,500.4 604.0,499.5 620.9,496.9 637.0,492.1 653.1,488.8 669.2,486.8 686.9,495.3 701.4,500.6 717.5,504.5 733.5,511.4 749.6,521.0 765.7,527.0 781.8,528.6 790.0,531.9 799.7,534.6 814.1,536.2 829.4,538.1 845.5,537.0 862.4,540.2 878.5,542.6 894.6,545.9 910.7,552.3 925.2,555.5 941.2,552.6 957.3,552.3 973.4,549.1 980.0,548.8 990.0,546.7 996.1,544.8 1012.2,539.1 1028.3,535.4 1052.4,533.2 1068.5,536.7 1084.6,541.5 1100.7,545.9 1116.8,547.2 1132.9,548.0 1148.1,550.4" fill="none" stroke="#a66cf5" stroke-width="1"/></g><rect x="38" y="113" width="66.8" height="25" rx="4" fill="#fff" filter="url(#sh)"/><path d="M42 113h1v25h-1a4 4 0 0 1-4-4v-17a4 4 0 0 1 4-4z" fill="#12b05f"/><text x="48.1" y="130.9" font-size="12" fill="#464e56" stroke="#464e56" stroke-width="0.3" textLength="14.5" lengthAdjust="spacingAndGlyphs">SU</text><text x="68.2" y="130.9" font-size="12" fill="#464e56" stroke="#464e56" stroke-width="0.3" textLength="30.6" lengthAdjust="spacingAndGlyphs">30.01</text><rect x="109.8" y="113" width="116.7" height="25" rx="4" fill="#fff" filter="url(#sh)"/><text x="115.7" y="130.9" font-size="12" fill="#464e56" stroke="#464e56" stroke-width="0.3" textLength="86.1" lengthAdjust="spacingAndGlyphs">MA (50,C,MA,0)</text><path d="M210.3 121.5l8 8M218.3 121.5l-8 8" stroke="#5f666d" stroke-width="1.3"/><rect x="232.3" y="113" width="117.30000000000001" height="25" rx="4" fill="#fff" filter="url(#sh)"/><text x="237.8" y="130.9" font-size="12" fill="#464e56" stroke="#464e56" stroke-width="0.3" textLength="87.7" lengthAdjust="spacingAndGlyphs">MA (75,C,MA,0)</text><path d="M334.7 121.5l8 8M342.7 121.5l-8 8" stroke="#5f666d" stroke-width="1.3"/><rect x="355.3" y="113" width="124.39999999999998" height="25" rx="4" fill="#fff" filter="url(#sh)"/><text x="360.8" y="130.9" font-size="12" fill="#464e56" stroke="#464e56" stroke-width="0.3" textLength="94.5" lengthAdjust="spacingAndGlyphs">MA (200,C,MA,0)</text><path d="M463.4 121.5l8 8M471.4 121.5l-8 8" stroke="#5f666d" stroke-width="1.3"/><rect x="485.2" y="113" width="215.50000000000006" height="25" rx="4" fill="#fff" filter="url(#sh)"/><text x="490.7" y="130.9" font-size="12" fill="#464e56" stroke="#464e56" stroke-width="0.3" textLength="185.0" lengthAdjust="spacingAndGlyphs">BOLLINGER BANDS (20,C,2,MA,Y)</text><path d="M684.4 121.5l8 8M692.4 121.5l-8 8" stroke="#5f666d" stroke-width="1.3"/><rect x="44.1" y="488.1" width="151.9" height="25.799999999999955" rx="4" fill="#fff" filter="url(#sh)"/><text x="54.4" y="505.1" font-size="11.4" fill="#464e56" stroke="#464e56" stroke-width="0.38" textLength="87.3" lengthAdjust="spacingAndGlyphs">MACD (12,26,9)</text><path d="M154 497.3l9 8.6M163 497.3l-9 8.6" stroke="#9a9ea3" stroke-width="1.6"/><path d="M183.5 497.5v10.3M178.2 502.6l5.3-5.3 5.3 5.3" fill="none" stroke="#b5b8bc" stroke-width="1.2"/><rect x="1163.5" y="186.9" width="3" height="1" fill="#b9bdc3"/><text x="1169.2" y="190.0" font-size="10" fill="#3c4249" textLength="24.5" lengthAdjust="spacingAndGlyphs">40.00</text><rect x="1163.5" y="381.9" width="3" height="1" fill="#b9bdc3"/><text x="1169.2" y="385.0" font-size="10" fill="#3c4249" textLength="24.5" lengthAdjust="spacingAndGlyphs">20.00</text><rect x="1162.1" y="204.2" width="30.6" height="18.3" rx="3" fill="#bec1c8"/><text x="1166.3" y="216.9" font-size="10.2" fill="#111" textLength="24.2" lengthAdjust="spacingAndGlyphs">37.26</text><rect x="1162.1" y="245.7" width="30.6" height="18.4" rx="3" fill="#a86cf5"/><text x="1166.3" y="259.0" font-size="10.2" fill="#111" textLength="24.2" lengthAdjust="spacingAndGlyphs">33.05</text><rect x="1162.1" y="253.8" width="30.6" height="18.3" rx="3" fill="#dfe1e5"/><text x="1166.3" y="266.6" font-size="10.2" fill="#111" textLength="24.2" lengthAdjust="spacingAndGlyphs">32.17</text><rect x="1162.1" y="274.6" width="30.6" height="22.5" rx="3" fill="#10ac5b"/><text x="1166.3" y="288.7" font-size="10.6" font-weight="700" fill="#fff" textLength="24.2" lengthAdjust="spacingAndGlyphs">30.01</text><rect x="1162.1" y="316" width="30.6" height="18.5" rx="3" fill="#ffbe80"/><text x="1166.3" y="328.9" font-size="10.2" fill="#111" textLength="24.2" lengthAdjust="spacingAndGlyphs">25.74</text><rect x="1162.1" y="303" width="30.6" height="18.4" rx="3" fill="#bcc0c8"/><text x="1166.3" y="315.8" font-size="10.2" fill="#111" textLength="24.2" lengthAdjust="spacingAndGlyphs">27.07</text><rect x="1193" y="281.5" width="0.9" height="4.5" fill="#9a9a9a"/><rect x="1163.5" y="506.6" width="2.5" height="1" fill="#b9bdc3"/><text x="1169" y="510.2" font-size="10" fill="#3c4249">3</text><rect x="1161.8" y="541.2" width="14.9" height="18.4" rx="3" fill="#a066f0"/><text x="1166" y="554" font-size="10" fill="#111">0</text><rect x="1161.8" y="535.9" width="11.4" height="18.7" rx="3" fill="#ff9c40"/><text x="1165.3" y="548.8" font-size="10" fill="#111">0</text><rect x="45" y="573.5" width="1" height="4" fill="#c9ccd1"/><text x="45.5" y="592.5" font-size="10" fill="#6e757c" text-anchor="middle">Sep</text><rect x="189" y="573.5" width="1" height="4" fill="#c9ccd1"/><text x="189.5" y="592.5" font-size="10" fill="#6e757c" text-anchor="middle">Nov</text><rect x="309" y="573.5" width="1" height="4" fill="#c9ccd1"/><text x="309.5" y="592.5" font-size="10" fill="#232a31" text-anchor="middle">2022</text><rect x="461" y="573.5" width="1" height="4" fill="#c9ccd1"/><text x="461.5" y="592.5" font-size="10" fill="#6e757c" text-anchor="middle">Mar</text><rect x="589" y="573.5" width="1" height="4" fill="#c9ccd1"/><text x="589.5" y="592.5" font-size="10" fill="#6e757c" text-anchor="middle">May</text><rect x="733" y="573.5" width="1" height="4" fill="#c9ccd1"/><text x="733.5" y="592.5" font-size="10" fill="#6e757c" text-anchor="middle">Jul</text><rect x="877" y="573.5" width="1" height="4" fill="#c9ccd1"/><text x="877.5" y="592.5" font-size="10" fill="#6e757c" text-anchor="middle">Sep</text><rect x="1021" y="573.5" width="1" height="4" fill="#c9ccd1"/><text x="1021.5" y="592.5" font-size="10" fill="#6e757c" text-anchor="middle">Nov</text><rect x="1141" y="573.5" width="1" height="4" fill="#c9ccd1"/><text x="1141.5" y="592.5" font-size="10" fill="#232a31" text-anchor="middle">2023</text></svg></body></html>
